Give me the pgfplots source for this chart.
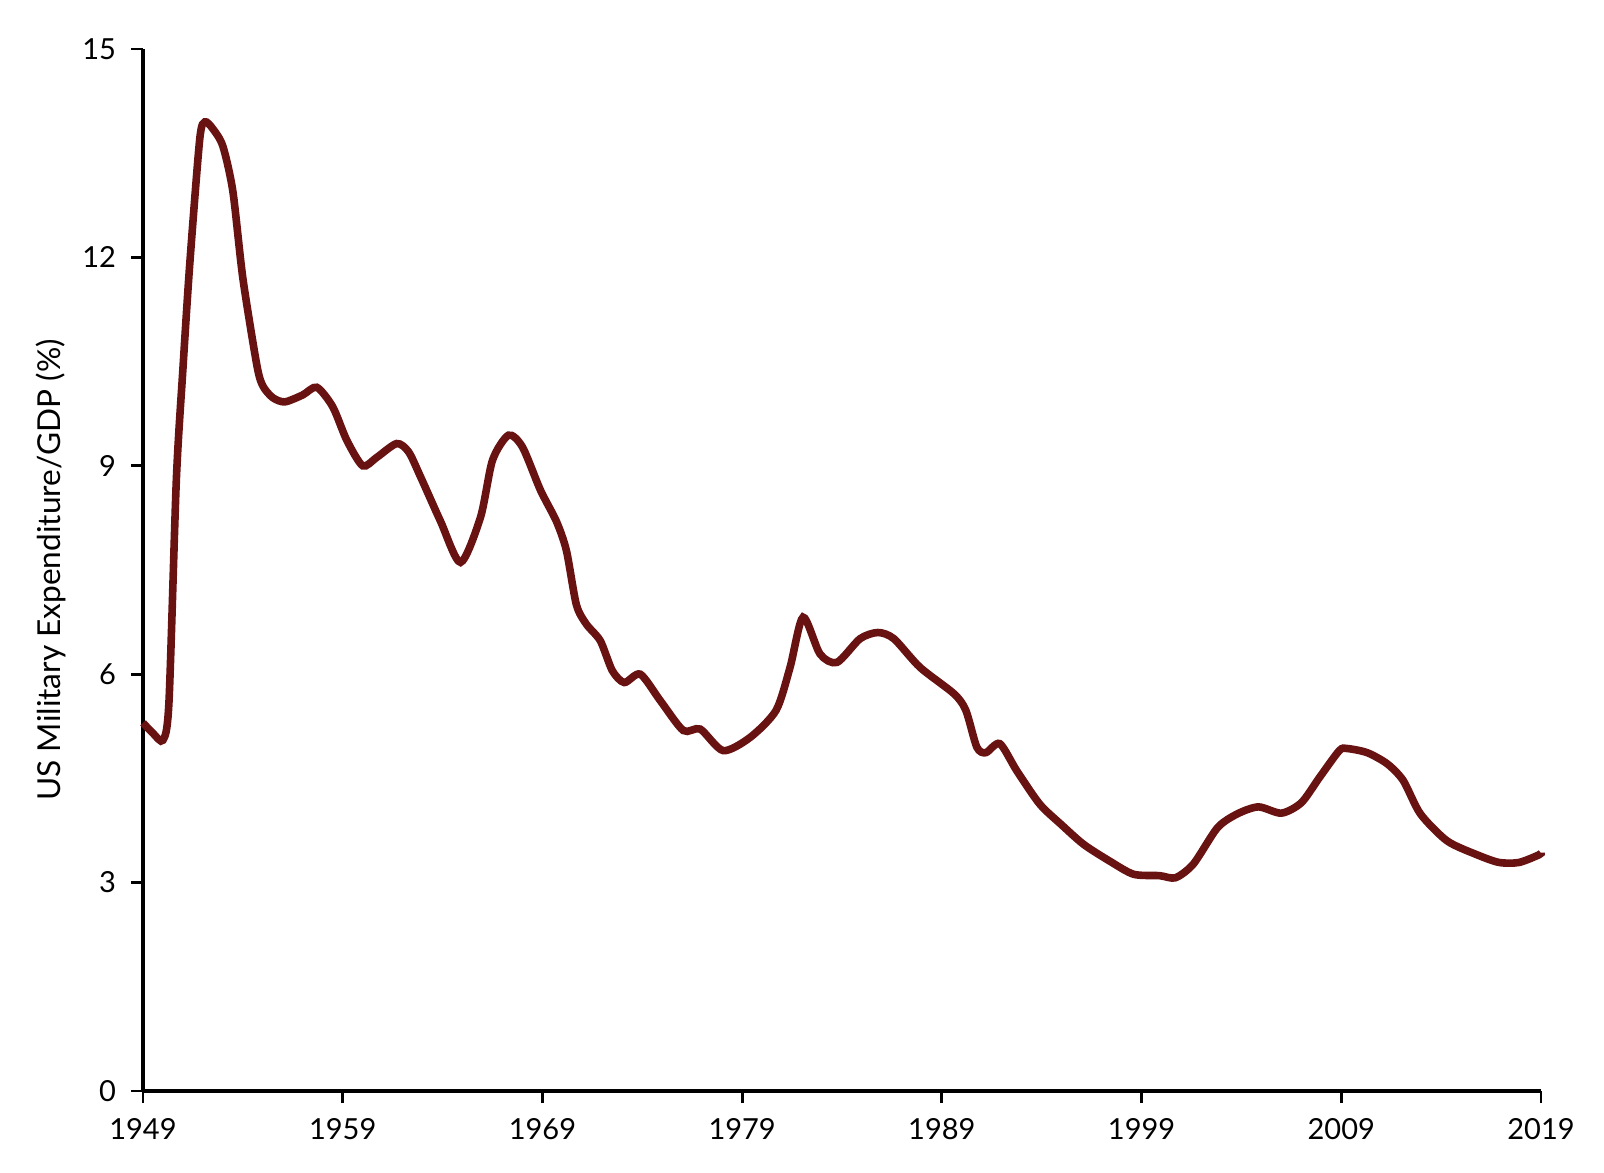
\documentclass[border=0pt]{standalone}
\usepackage{pgfplots}
\pgfplotsset{compat=1.18}
\usepackage{fontspec}
\setmainfont{Lato}
\definecolor{maroon}{RGB}{104,18,18}
\begin{document}
\begin{tikzpicture}
\path[use as bounding box] (-71.5pt,-40.5pt) rectangle (730.5pt,545.5pt);
\begin{axis}[
  at={(0,0)}, anchor=south west,
  scale only axis, width=699pt, height=521pt,
  xmin=1949, xmax=2019, ymin=0, ymax=15,
  axis lines=left,
  axis line style={-, line width=1.6pt, black},
  xtick={1949,1959,1969,1979,1989,1999,2009,2019},
  ytick={0,3,6,9,12,15},
  tick align=outside,
  major tick length=6pt,
  tick style={line width=1.4pt, black},
  /pgf/number format/1000 sep={},
  /pgf/number format/assume math mode=true,
  ticklabel style={font=\fontsize{14.5}{17}\selectfont},
  xticklabel style={yshift=-4pt},
  yticklabel style={xshift=-4pt},
  ylabel={US Military Expenditure/GDP (\%)},
  ylabel style={font=\fontsize{15.8}{18}\selectfont, at={(axis description cs:-0.0658,0.5)}, anchor=center},
  clip=false,
]
\addplot[maroon, line width=3.8pt, smooth, tension=0.45] coordinates {
(1949,5.3) (1949.5,5.15) (1950,5.05) (1950.3,5.6) (1950.67,8.8) (1951,10.4) (1951.34,11.9)
(1951.84,13.7) (1952.1,13.95) (1952.5,13.85) (1953,13.6) (1953.5,12.95) (1954,11.7)
(1954.7,10.45) (1955,10.15) (1955.5,9.98) (1956.1,9.92) (1957,10.02) (1957.7,10.13)
(1958.5,9.85) (1959.2,9.37) (1960,9.0) (1960.7,9.12) (1961.7,9.32) (1962.3,9.2)
(1962.9,8.84) (1963.9,8.2) (1964.9,7.61) (1965.9,8.26) (1966.5,9.08) (1967.3,9.44)
(1968,9.27) (1968.9,8.65) (1969.7,8.2) (1970.2,7.78) (1970.7,7.0) (1971.2,6.72)
(1971.9,6.48) (1972.5,6.05) (1973.1,5.88) (1973.9,6.0) (1974.9,5.62) (1976.05,5.19)
(1976.9,5.21) (1978.05,4.9) (1979.4,5.09) (1980.7,5.48) (1981.4,6.1) (1982.05,6.82)
(1982.9,6.29) (1983.75,6.17) (1984.9,6.51) (1985.8,6.6) (1986.6,6.51) (1987.9,6.1)
(1989.6,5.72) (1990.2,5.48) (1990.75,4.95) (1991.2,4.87) (1991.9,5.0) (1992.75,4.61)
(1993.9,4.13) (1995,3.83) (1996.1,3.55) (1997.4,3.31) (1998.6,3.12) (1999.9,3.1)
(2000.7,3.07) (2001.6,3.27) (2002.8,3.79) (2003.8,3.99) (2004.85,4.09) (2006,4.0)
(2007,4.15) (2007.9,4.51) (2008.9,4.9) (2009.3,4.93) (2010.3,4.87) (2011.3,4.71)
(2012.1,4.47) (2012.96,3.99) (2014.3,3.6) (2015.8,3.4) (2016.9,3.29) (2017.9,3.29)
(2018.9,3.4) (2019,3.43)
};
\end{axis}
\end{tikzpicture}
\end{document}
